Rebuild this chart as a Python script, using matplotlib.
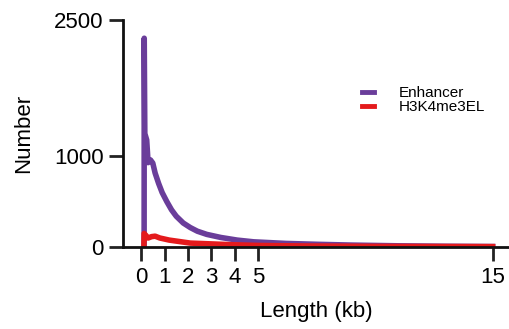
import matplotlib
matplotlib.use("Agg")
import matplotlib.pyplot as plt

plt.rcParams['font.family'] = ['Liberation Sans', 'DejaVu Sans']

# length distributions (kb vs count)
enh_kb = [0.13, 0.135, 0.16, 0.24, 0.3, 0.4, 0.5, 0.6, 0.75, 0.9, 1.1, 1.3,
          1.5, 1.8, 2.1, 2.4, 2.8, 3.4, 4.1, 4.8, 6.2, 7.6, 9.0, 11.0, 13.0, 15.0]
enh_n = [0, 2300, 1250, 1180, 930, 960, 925, 815, 700, 600, 500, 410,
         340, 265, 215, 175, 140, 106, 77, 58, 40, 30, 22, 14, 9, 6]

h3_kb = [0.12, 0.13, 0.2, 0.3, 0.45, 0.6, 0.8, 1.2, 1.8, 2.1, 3.0, 4.0,
         5.0, 7.0, 10.0, 15.0]
h3_n = [0, 150, 130, 100, 115, 120, 100, 77, 55, 44, 35, 25,
        18, 12, 8, 5]

xticks = [0, 1, 2, 3, 4, 5, 15]
yticks = [0, 1000, 2500]

fig = plt.figure(figsize=(5.09, 3.29), dpi=100)
ax = fig.add_axes([0.2417, 0.249, 0.7583, 0.690])

ax.plot(enh_kb, enh_n, color='#6a3d9a', lw=4, label='Enhancer', solid_joinstyle='round')
ax.plot(h3_kb, h3_n, color='#e41a1c', lw=4, label='H3K4me3EL', solid_joinstyle='round')

ax.set_xlim(-0.77, 15.7)
ax.set_ylim(0, 2500)
ax.set_xticks(xticks)
ax.set_yticks(yticks)
ax.tick_params(labelsize=16, length=10, width=2, color='#222222', pad=4)
for s in ['top', 'right']:
    ax.spines[s].set_visible(False)
for s in ['left', 'bottom']:
    ax.spines[s].set_linewidth(2)
    ax.spines[s].set_color('#111111')

ax.set_xlabel('Length (kb)', fontsize=16, labelpad=10)
ax.set_ylabel('Number', fontsize=16, labelpad=14)

leg = ax.legend(loc='upper left', bbox_to_anchor=(0.619, 0.71), frameon=False,
                fontsize=11, handlelength=0.8, handletextpad=1.6, labelspacing=0.0,
                borderpad=0, borderaxespad=0)
for h in leg.get_lines():
    h.set_linewidth(3.5)

fig.savefig('out.png', dpi=100)
